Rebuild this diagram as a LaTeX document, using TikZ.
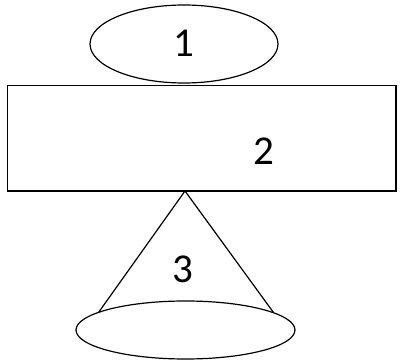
\documentclass[tikz,border=0pt]{standalone}
\usepackage{fontspec}
\setmainfont{Carlito}
\usetikzlibrary{shapes.geometric}
\begin{document}
\begin{tikzpicture}[x=1pt,y=-1pt,
  shapeline/.style={draw=black,line width=1.2pt},
  lbl/.style={font=\fontsize{41}{41}\selectfont,inner sep=0pt}]
\useasboundingbox (0,0) rectangle (400,361);
\node[shapeline,ellipse,minimum width=188pt,minimum height=78pt,inner sep=0pt] (e1) at (184,44) {};
\node[lbl] (t1) at (184,43) {1};
\draw[shapeline] (7.5,85.5) rectangle (396,191);
\node[lbl] (t2) at (264,151) {2};
\coordinate (apex) at (185,191);
\coordinate (bl) at (98.5,312.5);
\coordinate (br) at (273.5,312.5);
\draw[shapeline,line join=miter] (bl) -- (apex) -- (br);
\node[shapeline,ellipse,minimum width=219pt,minimum height=58pt,inner sep=0pt] (e3) at (185.5,330) {};
\node[lbl] (t3) at (183,269) {3};
\end{tikzpicture}
\end{document}
